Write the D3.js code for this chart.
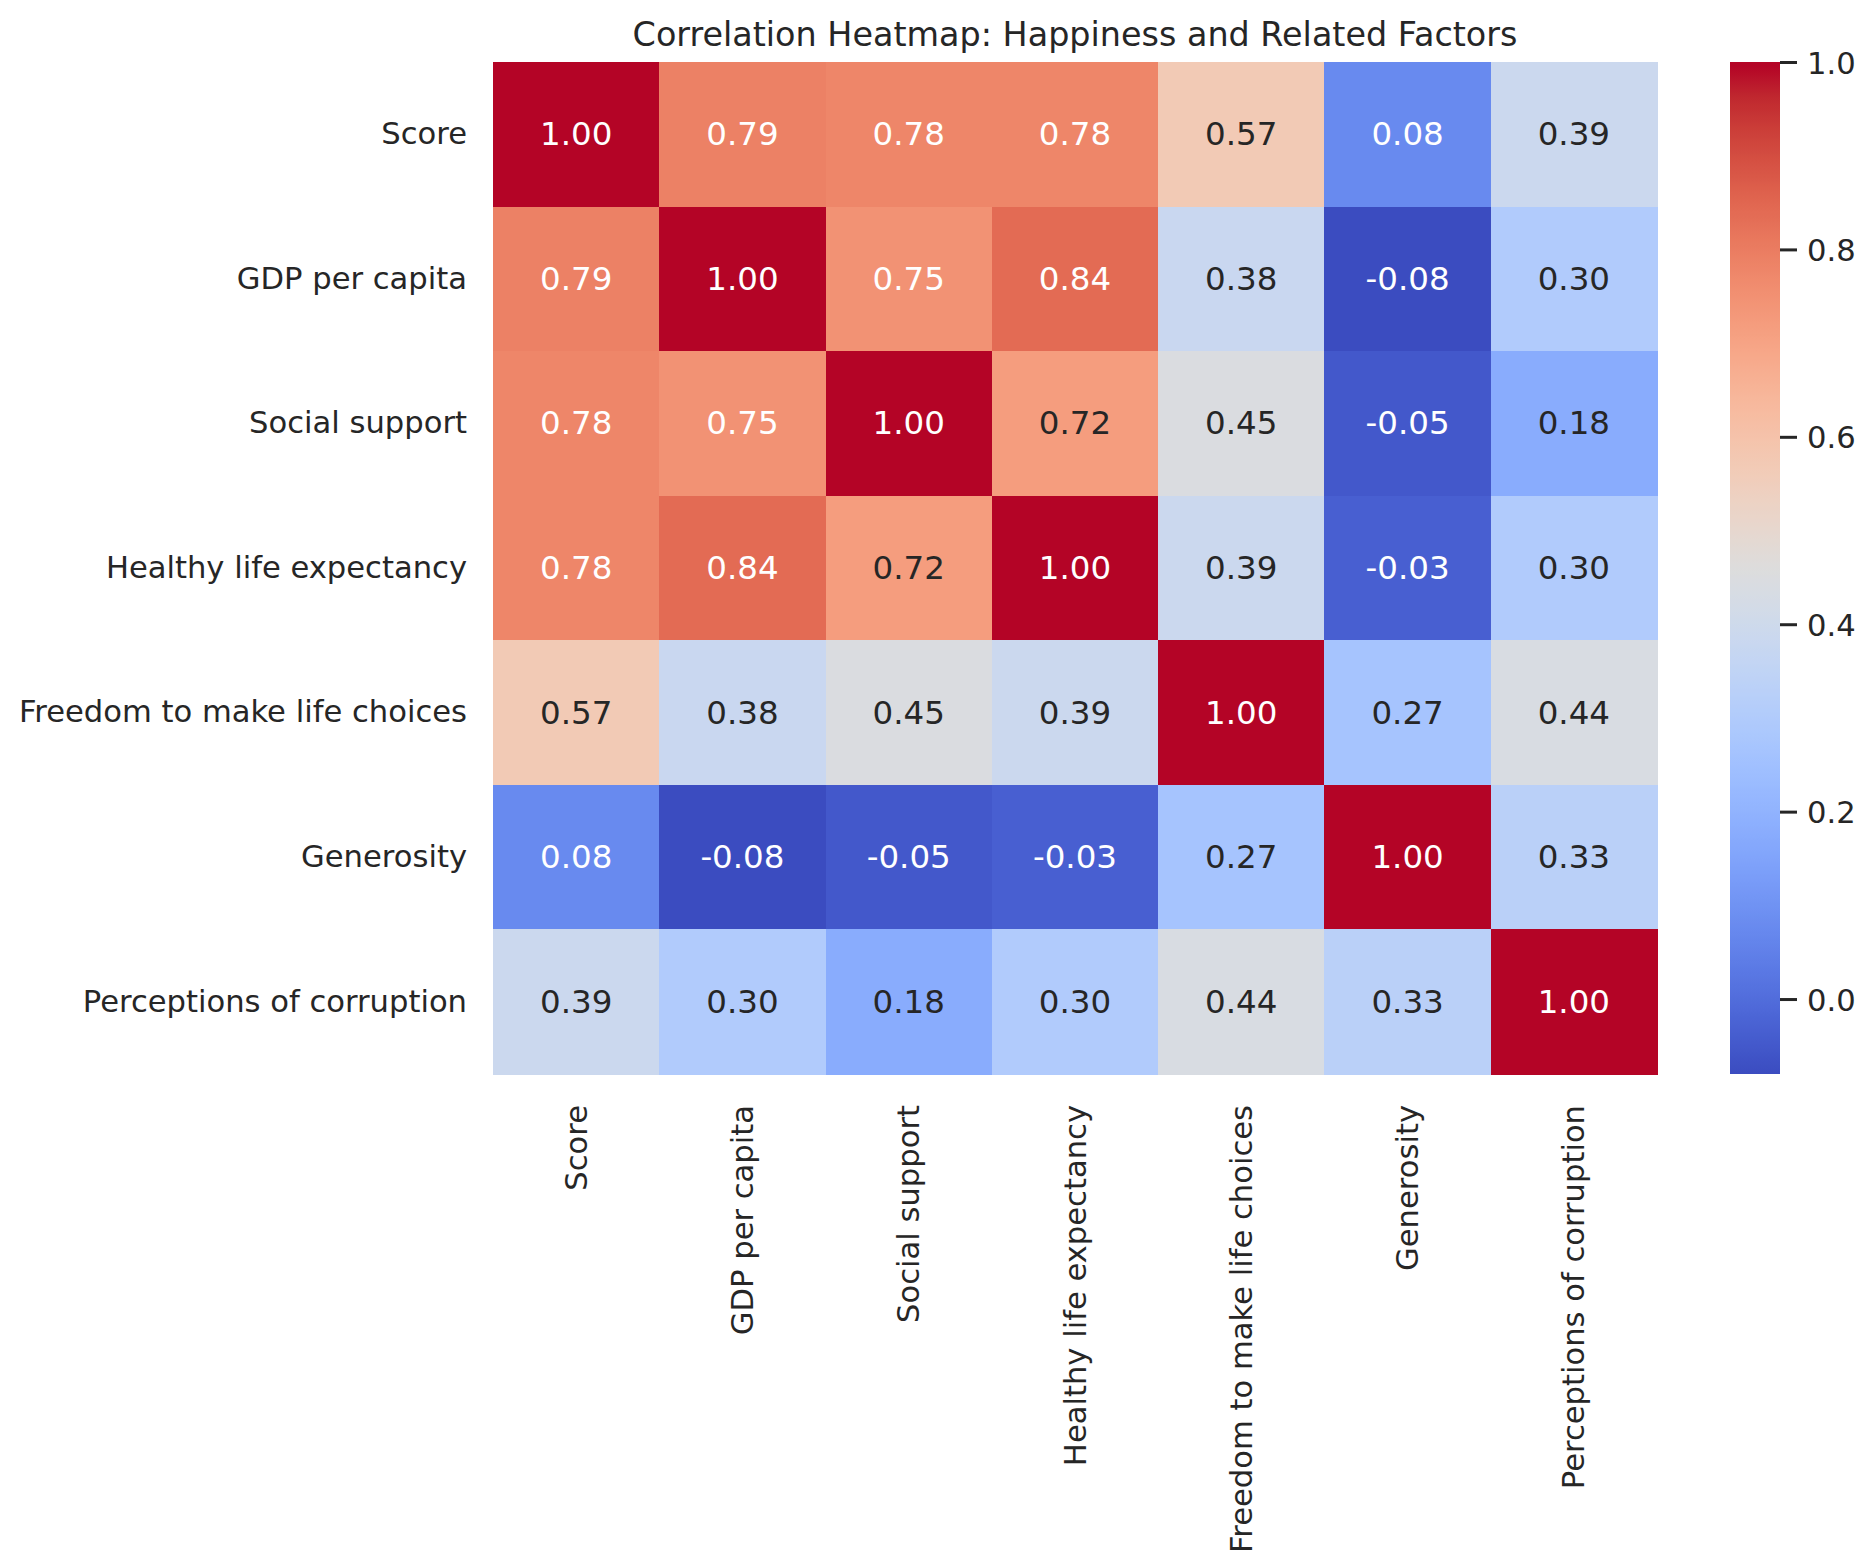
<!DOCTYPE html>
<html>
<head>
<meta charset="utf-8">
<script src="https://cdn.jsdelivr.net/npm/d3@7"></script>
<style>
  html, body { margin: 0; padding: 0; background: #ffffff; }
  svg { display: block; }
  text { font-family: "DejaVu Sans", sans-serif; }
</style>
</head>
<body>
<svg id="chart" width="1875" height="1567"></svg>
<script>
// ---------------- DATA ----------------
const labels = ["Score", "GDP per capita", "Social support", "Healthy life expectancy",
                "Freedom to make life choices", "Generosity", "Perceptions of corruption"];
const rowScore       = [1.00, 0.79, 0.78, 0.78, 0.57, 0.08, 0.39];
const rowGDP         = [0.79, 1.00, 0.75, 0.84, 0.38, -0.08, 0.30];
const rowSocial      = [0.78, 0.75, 1.00, 0.72, 0.45, -0.05, 0.18];
const rowHealth      = [0.78, 0.84, 0.72, 1.00, 0.39, -0.03, 0.30];
const rowFreedom     = [0.57, 0.38, 0.45, 0.39, 1.00, 0.27, 0.44];
const rowGenerosity  = [0.08, -0.08, -0.05, -0.03, 0.27, 1.00, 0.33];
const rowCorruption  = [0.39, 0.30, 0.18, 0.30, 0.44, 0.33, 1.00];
const colorbarTicks  = [0.0, 0.2, 0.4, 0.6, 0.8, 1.0];
const titleText = "Correlation Heatmap: Happiness and Related Factors";

const matrix = [rowScore, rowGDP, rowSocial, rowHealth, rowFreedom, rowGenerosity, rowCorruption];

// ---------------- coolwarm colormap (matplotlib) ----------------
const cwR = [0.2298057,0.26623388,0.30386891,0.342804478,0.38301334,0.424369608,0.46666708,0.509635204,0.552953156,0.596262162,0.639176211,0.681291281,0.722193294,0.761464949,0.798691636,0.833466556,0.865395197,0.897787179,0.924127593,0.944468518,0.958852946,0.96732803,0.969954137,0.966811177,0.958003065,0.943660866,0.923944917,0.89904617,0.869186849,0.834620542,0.795631745,0.752534934,0.705673158];
const cwG = [0.298717966,0.353094838,0.406535296,0.458757618,0.50941904,0.558148092,0.604562568,0.648280772,0.688929332,0.726149107,0.759599947,0.788964712,0.813952739,0.834302879,0.849786142,0.860207984,0.86541021,0.848937047,0.827384882,0.800927443,0.769767752,0.734132809,0.694266682,0.650421156,0.602842431,0.551750968,0.49730856,0.439559467,0.378313092,0.312874446,0.24128379,0.157246067,0.01555616];
const cwB = [0.753683153,0.801466763,0.84495867,0.883725899,0.917387822,0.945619588,0.968154911,0.98478814,0.995375608,0.999836203,0.998151185,0.990363227,0.976574709,0.956945269,0.931688648,0.901068838,0.865395561,0.820880546,0.774508472,0.726736146,0.678007945,0.628751763,0.579375448,0.530263762,0.481775914,0.434243684,0.387970225,0.343229596,0.300267182,0.259301199,0.220525627,0.184115123,0.150232812];

function coolwarmRGB(t) {
  t = Math.max(0, Math.min(1, t));
  const idx = Math.min(255, Math.floor(t * 256));
  const tt = idx / 255;
  const pos = tt * 32;
  const i = Math.min(31, Math.floor(pos));
  const f = pos - i;
  return [
    cwR[i] + (cwR[i+1] - cwR[i]) * f,
    cwG[i] + (cwG[i+1] - cwG[i]) * f,
    cwB[i] + (cwB[i+1] - cwB[i]) * f
  ];
}
function rgbStr(c) {
  return d3.rgb(Math.round(c[0]*255), Math.round(c[1]*255), Math.round(c[2]*255)).formatHex();
}
function relLum(c) {
  const lin = c.map(v => v <= 0.03928 ? v / 12.92 : Math.pow((v + 0.055) / 1.055, 2.4));
  return 0.2126 * lin[0] + 0.7152 * lin[1] + 0.0722 * lin[2];
}

// ---------------- layout ----------------
const svg = d3.select("#chart");
const hm = { left: 493, top: 62, right: 1657, bottom: 1074 };
const cb = { left: 1730, right: 1780, top: 62, bottom: 1074 };
const textColor = "#262626";
const tickFont = "30.6px";

const allVals = matrix.flat();
const vmin = d3.min(allVals), vmax = d3.max(allVals);
const norm = d3.scaleLinear().domain([vmin, vmax]).range([0, 1]);

const x = d3.scaleBand().domain(labels).range([hm.left, hm.right]).padding(0);
const y = d3.scaleBand().domain(labels).range([hm.top, hm.bottom]).padding(0);

const cells = [];
matrix.forEach((row, i) => row.forEach((v, j) => cells.push({ r: labels[i], c: labels[j], v })));

const g = svg.append("g");
g.selectAll("rect.cell").data(cells).join("rect")
  .attr("class", "cell")
  .attr("x", d => x(d.c))
  .attr("y", d => y(d.r))
  .attr("width", x.bandwidth() + 0.5)
  .attr("height", y.bandwidth() + 0.5)
  .attr("fill", d => rgbStr(coolwarmRGB(norm(d.v))))
  .attr("shape-rendering", "crispEdges");

g.selectAll("text.annot").data(cells).join("text")
  .attr("class", "annot")
  .attr("x", d => x(d.c) + x.bandwidth() / 2)
  .attr("y", d => y(d.r) + y.bandwidth() / 2)
  .attr("text-anchor", "middle")
  .attr("dominant-baseline", "central")
  .attr("font-size", "32.5px")
  .attr("fill", d => relLum(coolwarmRGB(norm(d.v))) > 0.408 ? textColor : "#ffffff")
  .text(d => d.v.toFixed(2));

// y axis labels
const yAxis = d3.axisLeft(y).tickSize(0).tickPadding(26);
const yg = svg.append("g").attr("transform", `translate(${hm.left},0)`).call(yAxis);
yg.select(".domain").remove();
yg.selectAll("text").attr("font-size", tickFont).attr("fill", textColor)
  .attr("font-family", "DejaVu Sans").attr("dy", "0.32em");

// x axis labels (rotated)
const xAxis = d3.axisBottom(x).tickSize(0).tickPadding(0);
const xg = svg.append("g").attr("transform", `translate(0,${hm.bottom})`).call(xAxis);
xg.select(".domain").remove();
xg.selectAll("text")
  .attr("font-size", tickFont).attr("fill", textColor).attr("font-family", "DejaVu Sans")
  .attr("text-anchor", "end")
  .attr("dy", null)
  .attr("y", 0)
  .attr("dominant-baseline", "central")
  .attr("transform", "translate(0,31) rotate(-90)");

// title
svg.append("text")
  .attr("x", (hm.left + hm.right) / 2)
  .attr("y", 46)
  .attr("text-anchor", "middle")
  .attr("font-size", "33.4px")
  .attr("fill", textColor)
  .text(titleText);

// colorbar
const cbScale = d3.scaleLinear().domain([vmin, vmax]).range([cb.bottom, cb.top]);
const defs = svg.append("defs");
const grad = defs.append("linearGradient").attr("id", "cbgrad")
  .attr("x1", 0).attr("y1", 1).attr("x2", 0).attr("y2", 0);
d3.range(0, 257).forEach(k => {
  const t = k / 256;
  grad.append("stop").attr("offset", t).attr("stop-color", rgbStr(coolwarmRGB(t)));
});
svg.append("rect")
  .attr("x", cb.left).attr("y", cb.top)
  .attr("width", cb.right - cb.left).attr("height", cb.bottom - cb.top)
  .attr("fill", "url(#cbgrad)");

const cbAxis = d3.axisRight(cbScale).tickValues(colorbarTicks).tickFormat(d3.format(".1f"))
  .tickSize(17).tickPadding(10);
const cbg = svg.append("g").attr("transform", `translate(${cb.right},0)`).call(cbAxis);
cbg.select(".domain").remove();
cbg.selectAll("line").attr("stroke", textColor).attr("stroke-width", 3);
cbg.selectAll("text").attr("font-size", tickFont).attr("fill", textColor)
  .attr("font-family", "DejaVu Sans").attr("dy", "0.36em");
</script>
</body>
</html>
